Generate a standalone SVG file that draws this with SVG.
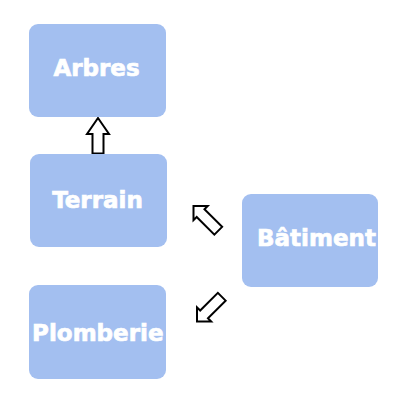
<svg xmlns="http://www.w3.org/2000/svg" width="408" height="408" viewBox="0 0 408 408">
<style>
.box{fill:#a3bff0;}
.lbl{fill:#ffffff;stroke:#ffffff;stroke-width:0.7;font-family:"DejaVu Sans",Verdana,sans-serif;font-weight:bold;font-size:23px;text-anchor:middle;}
.arr{fill:#ffffff;stroke:#000000;stroke-width:2;stroke-linejoin:miter;}
</style>
<defs>
<path id="diag" d="M0,0 L10,10 L5.5,10 L5.5,35 L-5.5,35 L-5.5,10 L-10,10 Z"/>
</defs>
<rect width="408" height="408" fill="#ffffff"/>
<g id="connectors">
<path class="arr" d="M98,118 L109,134 L103.5,134 L103.5,153.5 L92.5,153.5 L92.5,134 L87,134 Z"/>
<use href="#diag" class="arr" transform="translate(193.5,206) rotate(-45)"/>
<use href="#diag" class="arr" transform="translate(197,321.5) rotate(-135)"/>
</g>
<g id="node-arbres">
<rect class="box" x="29" y="24" width="137" height="93" rx="9"/>
<text class="lbl" x="96.5" y="76">Arbres</text>
</g>
<g id="node-terrain">
<rect class="box" x="30" y="154" width="137" height="93" rx="9"/>
<text class="lbl" x="97.5" y="207.5">Terrain</text>
</g>
<g id="node-batiment">
<rect class="box" x="242" y="194" width="136" height="93" rx="9"/>
<text class="lbl" x="316.5" y="246">Bâtiment</text>
</g>
<g id="node-plomberie">
<rect class="box" x="29" y="285" width="137" height="94" rx="9"/>
<text class="lbl" x="97.8" y="341">Plomberie</text>
</g>
</svg>
